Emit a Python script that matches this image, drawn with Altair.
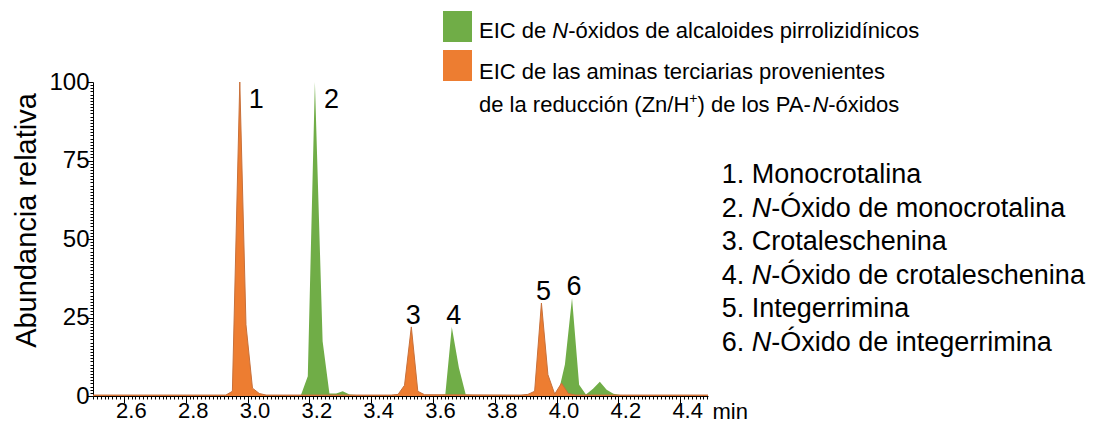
import altair as alt
import pandas as pd

# ---------------- data ----------------
green_rt = [2.50, 3.152, 3.173, 3.195, 3.218, 3.243, 3.265, 3.287, 3.308, 3.330, 3.352,
            3.618, 3.640, 3.661, 3.684, 3.706, 3.728,
            3.983, 4.005, 4.027, 4.050, 4.073, 4.095, 4.118, 4.140, 4.162, 4.184, 4.206, 4.49]
green_val = [0.3, 0.3, 0.3, 6.3, 100, 17.4, 0.8, 0.8, 1.5, 0.5, 0.3,
             0.3, 0.5, 22.0, 9.0, 0.5, 0.3,
             0.3, 0.6, 10.0, 31.2, 3.6, 0.5, 2.3, 4.5, 2.0, 0.7, 0.3, 0.3]

orange_rt = [2.50, 2.930, 2.951, 2.975, 2.995, 3.016, 3.038, 3.060,
             3.465, 3.487, 3.508, 3.530, 3.551, 3.573,
             3.885, 3.907, 3.929, 3.951, 3.972, 3.994, 4.016, 4.038, 4.060, 4.49]
orange_val = [0.3, 0.3, 1.5, 100, 22.7, 2.5, 0.8, 0.3,
              0.3, 0.5, 3.4, 22.0, 1.5, 0.4,
              0.3, 0.5, 1.5, 29.6, 6.8, 0.6, 4.1, 0.8, 0.3, 0.3]

peak_top_labels = ["1", "2"]
peak_top_rt = [2.975, 3.218]
peak_top_val = [100, 100]

peak_labels = ["3", "4", "5", "6"]
peak_rt = [3.530, 3.661, 3.951, 4.050]
peak_val = [22.0, 22.0, 29.6, 31.2]

legend_green = ["EIC de ", "N", "-óxidos de alcaloides pirrolizidínicos"]
legend_orange_1 = ["EIC de las aminas terciarias provenientes"]
legend_orange_2 = ["de la reducción (Zn/H", "+", ") de los PA-", "N", "-óxidos"]

compounds = [
    ["1. Monocrotalina"],
    ["2. ", "N", "-Óxido de monocrotalina"],
    ["3. Crotaleschenina"],
    ["4. ", "N", "-Óxido de crotaleschenina"],
    ["5. Integerrimina"],
    ["6. ", "N", "-Óxido de integerrimina"],
]

GREEN = "#70AD47"
ORANGE = "#ED7D31"
FONT = "Liberation Sans"

# ---------------- helpers ----------------
W = {" ": 278, "(": 333, ")": 333, "+": 584, "-": 333, ".": 278, "/": 278,
     "A": 667, "C": 722, "E": 667, "H": 722, "I": 278, "M": 833, "N": 722, "O": 778,
     "P": 667, "Z": 611, "Ó": 778,
     "a": 556, "b": 556, "c": 500, "d": 556, "e": 556, "g": 556, "h": 556, "i": 222,
     "l": 222, "m": 833, "n": 556, "o": 556, "p": 556, "r": 333, "s": 500, "t": 278,
     "u": 556, "v": 500, "x": 500, "z": 500, "ó": 556, "í": 278}
for d in "0123456789":
    W[d] = 556


def text_width(s, size):
    return sum(W.get(c, 556) for c in s) / 1000.0 * size


def seg_layers(segs, x0, y, size, sup_size=None):
    layers = []
    x = x0
    for s in segs:
        italic = (s == "N")
        sup = (s == "+")
        fs = (sup_size or size * 0.6) if sup else size
        yy = y - size * 0.38 if sup else y
        layers.append(
            alt.Chart(pd.DataFrame({"t": [s]}))
            .mark_text(align="left", baseline="alphabetic", font=FONT, fontSize=fs,
                       fontStyle="italic" if italic else "normal", color="black")
            .encode(x=alt.value(x), y=alt.value(yy), text="t:N")
        )
        x += text_width(s, fs)
    return layers


# ---------------- scales & axes ----------------
x_ticks = [round(2.6 + 0.0125 * k, 5) for k in range(-8, 152) if 2.6 + 0.0125 * k <= 4.4901]
major_x = "abs(datum.value*5 - round(datum.value*5)) < 0.001"
x_axis = alt.Axis(
    values=x_ticks, labelExpr=f"{major_x} ? format(datum.value, '.1f') : ''",
    tickSize={"expr": f"{major_x} ? 7 : 3"}, tickColor="black", domainColor="black",
    labelOverlap=False, labelFont=FONT, labelFontSize=22, labelColor="black",
    labelPadding=-3, labelOffset=7, grid=False,
    title="min", titleFont=FONT, titleFontSize=22, titleFontWeight="normal",
    titleColor="black", titleX=619, titleY=22, titleAlign="left",
    titleBaseline="alphabetic", titleAngle=0)
y_axis = alt.Axis(
    values=list(range(0, 101)), labelExpr="datum.value % 25 === 0 ? datum.value : ''",
    tickSize={"expr": "datum.value % 25 === 0 ? 6 : 3"}, tickColor="black",
    domainColor="black", labelOverlap=False, labelFont=FONT, labelFontSize=24,
    labelColor="black", labelPadding=-2, grid=False,
    title="Abundancia relativa", titleFont=FONT, titleFontSize=29,
    titleFontWeight="normal", titleColor="black", titleAngle=270,
    titleX=-67, titleY=138, titleAlign="center", titleBaseline="middle")

x_enc = alt.X("rt:Q", scale=alt.Scale(domain=[2.5, 4.49], nice=False, zero=False), axis=x_axis)
y_enc = alt.Y("val:Q", scale=alt.Scale(domain=[0, 100], nice=False), axis=y_axis)

green_df = pd.DataFrame({"rt": green_rt, "val": green_val})
orange_df = pd.DataFrame({"rt": orange_rt, "val": orange_val})

green_area = alt.Chart(green_df).mark_area(color=GREEN, interpolate="linear").encode(x=x_enc, y=y_enc)
orange_area = alt.Chart(orange_df).mark_area(color=ORANGE, interpolate="linear").encode(x=x_enc, y=y_enc)
orange_line = alt.Chart(orange_df).mark_line(color="#c8703a", strokeWidth=1).encode(x=x_enc, y=y_enc)

lab12 = alt.Chart(pd.DataFrame({"rt": peak_top_rt, "val": peak_top_val, "lab": peak_top_labels})) \
    .mark_text(align="left", baseline="middle", dx=9, dy=18, font=FONT, fontSize=27, color="black") \
    .encode(x=x_enc, y=y_enc, text="lab:N")
lab36 = alt.Chart(pd.DataFrame({"rt": peak_rt, "val": peak_val, "lab": peak_labels})) \
    .mark_text(align="center", baseline="alphabetic", dx=2, dy=-3, font=FONT, fontSize=27, color="black") \
    .encode(x=x_enc, y=y_enc, text="lab:N")

layers = [green_area, orange_area, orange_line, lab12, lab36]

# legend squares
layers.append(alt.Chart(pd.DataFrame({"k": [0]})).mark_rect(color=GREEN).encode(
    x=alt.value(350), x2=alt.value(379), y=alt.value(-71), y2=alt.value(-40)))
layers.append(alt.Chart(pd.DataFrame({"k": [0]})).mark_rect(color=ORANGE).encode(
    x=alt.value(350), x2=alt.value(379), y=alt.value(-32), y2=alt.value(-1)))

LEG = 22
layers += seg_layers(legend_green, 386, -44.5, LEG)
layers += seg_layers(legend_orange_1, 386, -3, LEG)
layers += seg_layers(legend_orange_2, 386, 29.5, LEG, sup_size=14)

LIST = 27
list_y = [101, 134.5, 168, 201.5, 235, 268.5]
for segs, yy in zip(compounds, list_y):
    layers += seg_layers(segs, 628.7, yy, LIST)

chart = alt.layer(*layers).properties(
    width=615, height=314,
    padding={"left": 85, "top": 74, "right": 388, "bottom": 26},
    autosize=alt.AutoSizeParams(type="none"),
).configure_view(stroke=None).configure_axis(domainWidth=1, tickWidth=1)

chart.save("out.html", embed_options={"renderer": "svg", "actions": False})
